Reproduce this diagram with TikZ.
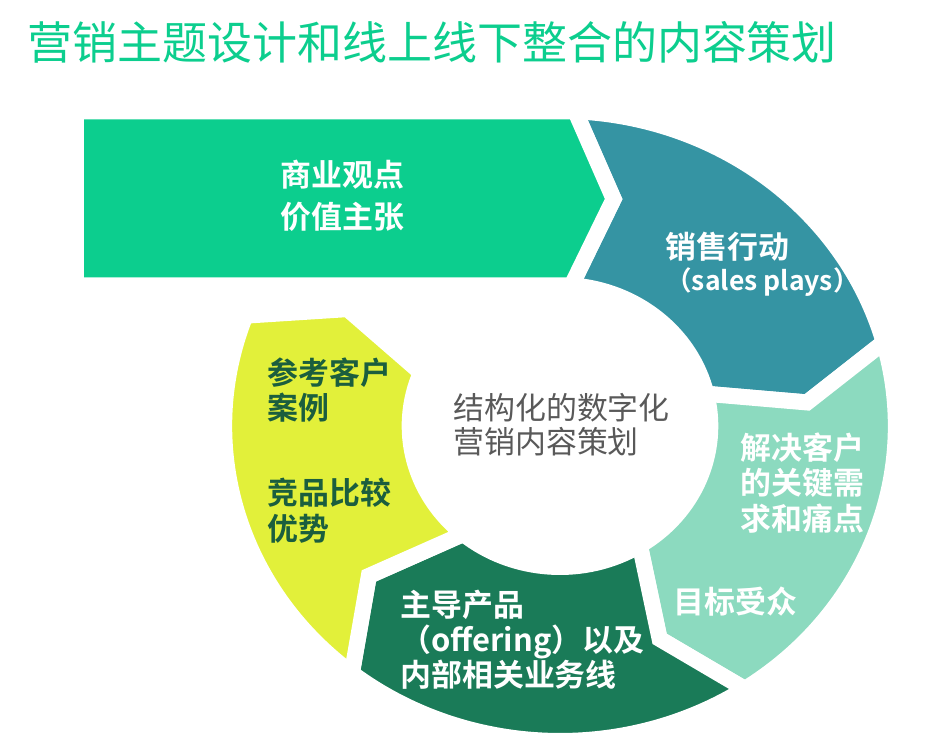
\documentclass[tikz,border=0pt]{standalone}
\usepackage{fontspec}
\setmainfont{Noto Sans CJK SC}[BoldFont={Noto Sans CJK SC Bold}]
\definecolor{titlegreen}{RGB}{12,206,142}
\definecolor{salesteal}{RGB}{53,148,163}
\definecolor{needmint}{RGB}{140,218,191}
\definecolor{offerdeep}{RGB}{26,123,88}
\definecolor{caselime}{RGB}{226,240,58}
\definecolor{caseink}{RGB}{27,94,62}
\definecolor{hubgray}{RGB}{89,89,89}
\tikzset{
    ringseg/.style={
        draw=white,
        line width=0.32cm,
        line join=miter
    },
    paneltitle/.style={
        anchor=north west,
        inner sep=0pt,
        text=titlegreen,
        font=\fontsize{25.6pt}{30pt}\selectfont
    },
    seglabel/.style={
        anchor=north west,
        inner sep=0pt,
        align=left,
        text=white,
        font=\bfseries\fontsize{17.6pt}{#1}\selectfont
    },
    seglabel/.default=20pt,
    hublabel/.style={
        anchor=north west,
        inner sep=0pt,
        align=left,
        text=hubgray,
        font=\fontsize{17.6pt}{19.3pt}\selectfont
    }
}

\begin{document}
\begin{tikzpicture}[x=0.02cm, y=0.02cm]
\useasboundingbox (-560,-310) rectangle (376,426);

% Ring (a circle squeezed a little in height)
\begin{scope}[xscale=1.066]
    % boundaries: outer corner, chevron tip, inner corner
    \coordinate (b0o) at (87.4:315);
    \coordinate (b0t) at (77.5:232.5);
    \coordinate (b0i) at (85.6:141);
    \coordinate (b1o) at (15.4:315);
    \coordinate (b1t) at (5.8:233);
    \coordinate (b1i) at (13.2:141);
    \coordinate (b2o) at (-56.6:315);
    \coordinate (b2t) at (-66.3:232.5);
    \coordinate (b2i) at (-57.9:141);
    \coordinate (b3o) at (-128.3:315);
    \coordinate (b3t) at (-140.1:233.7);
    \coordinate (b3i) at (-130:141);
    \coordinate (b4o) at (-200.5:315);
    \coordinate (b4t) at (-210.4:231);
    \coordinate (b4i) at (-202.2:141);

    \path[ringseg, fill=salesteal] (b0o) arc[start angle=87.4, end angle=15.4, radius=315]
        -- (b1t) -- (b1i) arc[start angle=13.2, end angle=85.6, radius=141] -- (b0t) -- cycle;
    \path[ringseg, fill=needmint] (b1o) arc[start angle=15.4, end angle=-56.6, radius=315]
        -- (b2t) -- (b2i) arc[start angle=-57.9, end angle=13.2, radius=141] -- (b1t) -- cycle;
    \path[ringseg, fill=offerdeep] (b2o) arc[start angle=-56.6, end angle=-128.3, radius=315]
        -- (b3t) -- (b3i) arc[start angle=-130, end angle=-57.9, radius=141] -- (b2t) -- cycle;
    \path[ringseg, fill=caselime] (b3o) arc[start angle=-128.3, end angle=-200.5, radius=315]
        -- (b4t) -- (b4i) arc[start angle=-202.2, end angle=-130, radius=141] -- (b3t) -- cycle;
\end{scope}

% Entry arrow
\coordinate (arrowL) at (-484,0);
\path[ringseg, fill=titlegreen] (b0o -| arrowL) -- (b0o) -- (b0t) -- (b0i) -- (b0i -| arrowL) -- cycle;

% Texts
\node[paneltitle] (title) at (-533,405) {营销主题设计和线上线下整合的内容策划};
\node[seglabel=23.8pt] (valuetxt) at (-280,266) {商业观点\\价值主张};
\node[seglabel=17.8pt] (salestxt) at (105,194) {销售行动\\{\fontsize{15.1pt}{17.8pt}\selectfont（sales plays）}};
\node[seglabel=20.4pt] (needtxt) at (180,-6) {解决客户\\的关键需\\求和痛点};
\node[seglabel] (audtxt) at (113,-161) {目标受众};
\node[seglabel=19.8pt] (offertxt) at (-160,-164) {主导产品\\（offering）以及\\内部相关业务线};
\node[seglabel=20.4pt, text=caseink] (casetxt) at (-293,69) {参考客户\\案例};
\node[seglabel=20.4pt, text=caseink] (comptxt) at (-293,-52) {竞品比较\\优势};
\node[hublabel] (hubtxt) at (-107,33) {结构化的数字化\\营销内容策划};

\end{tikzpicture}
\end{document}
